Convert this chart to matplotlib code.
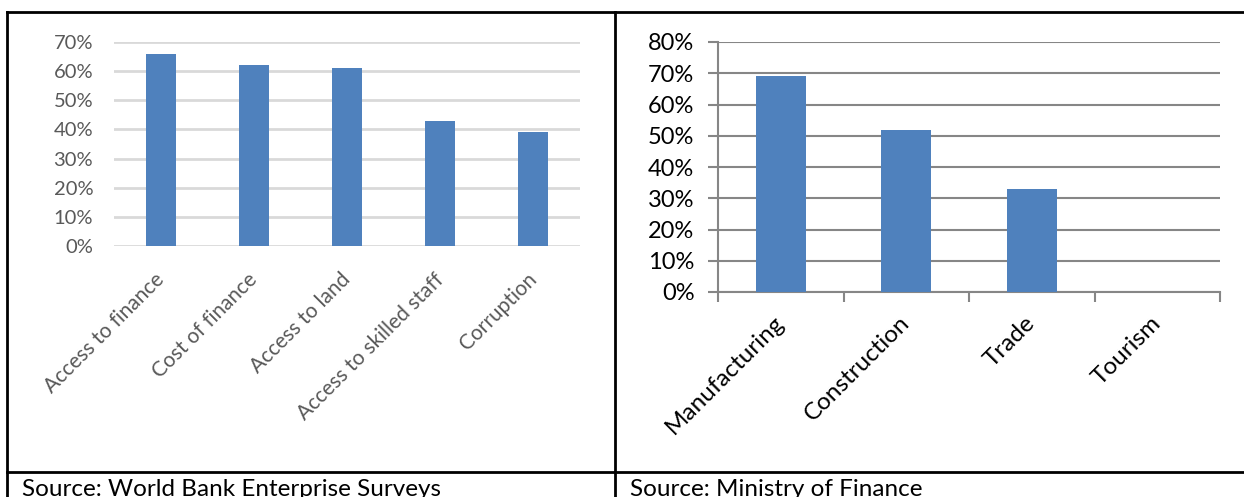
import matplotlib
matplotlib.use("Agg")
import matplotlib.pyplot as plt
from matplotlib.lines import Line2D
from matplotlib.ticker import PercentFormatter

plt.rcParams['font.family'] = ['Lato', 'DejaVu Sans']

# Data
left_categories = ["Access to finance", "Cost of finance", "Access to land",
                   "Access to skilled staff", "Corruption"]
left_values = [0.66, 0.62, 0.61, 0.43, 0.39]
left_source = "Source: World Bank Enterprise Surveys"

right_categories = ["Manufacturing", "Construction", "Trade", "Tourism"]
right_values = [0.69, 0.52, 0.33, 0.0]
right_source = "Source: Ministry of Finance"

W, H = 1244, 497
fig = plt.figure(figsize=(W / 100, H / 100), dpi=100)

def fx(px):
    return px / W

def fy(py):
    return 1 - py / H

bar_color = "#4f81bd"

# ---- Left chart ----
axL = fig.add_axes([fx(114), fy(246), fx(580) - fx(114), fy(42) - fy(246)])
axL.bar(range(len(left_values)), left_values, width=0.32, color=bar_color, zorder=3)
axL.set_xlim(-0.5, len(left_values) - 0.5)
axL.set_ylim(0, 0.70)
axL.set_yticks([i / 10 for i in range(8)])
axL.yaxis.set_major_formatter(PercentFormatter(1.0, decimals=0))
axL.grid(axis='y', color="#d9d9d9", linewidth=2, zorder=0)
axL.set_axisbelow(True)
for s in axL.spines.values():
    s.set_visible(False)
axL.tick_params(axis='y', length=0, pad=15, labelsize=14.5, labelcolor="#595959")
axL.tick_params(axis='x', length=0, pad=22, labelsize=15, labelcolor="#595959")
axL.set_xticks(range(len(left_categories)))
axL.set_xticklabels(left_categories, rotation=45, ha='right', va='center',
                    rotation_mode='anchor')
axL.patch.set_alpha(0)

# ---- Right chart ----
axR = fig.add_axes([fx(718), fy(292), fx(1220) - fx(718), fy(42) - fy(292)])
axR.bar(range(len(right_values)), right_values, width=0.4, color=bar_color, zorder=3)
axR.set_xlim(-0.5, len(right_values) - 0.5)
axR.set_ylim(0, 0.80)
axR.set_yticks([i / 10 for i in range(9)])
axR.yaxis.set_major_formatter(PercentFormatter(1.0, decimals=0))
axR.grid(axis='y', color="#868686", linewidth=1.5, zorder=0)
axR.set_axisbelow(True)
for k in ['top', 'right']:
    axR.spines[k].set_visible(False)
axR.spines['left'].set_color("#868686")
axR.spines['left'].set_linewidth(1.5)
axR.spines['bottom'].set_color("#868686")
axR.spines['bottom'].set_linewidth(1.5)
axR.tick_params(axis='y', length=7, width=1.5, color="#868686", pad=10,
                labelsize=17, labelcolor="black")
# category labels at centers, tick marks at boundaries
axR.set_xticks(range(len(right_categories)))
axR.set_xticklabels(right_categories, rotation=45, ha='right', va='center',
                    rotation_mode='anchor')
axR.tick_params(axis='x', which='major', length=0, pad=20, labelsize=17.5,
                labelcolor="black")
axR.set_xticks([i - 0.5 for i in range(len(right_categories) + 1)], minor=True)
axR.tick_params(axis='x', which='minor', length=7, width=1.5, color="#868686")
axR.patch.set_alpha(0)

# ---- Table borders ----
lw = 2
fig.add_artist(Line2D([fx(7), fx(1244)], [fy(12), fy(12)], transform=fig.transFigure,
                      color='black', linewidth=lw))
fig.add_artist(Line2D([fx(7), fx(1244)], [fy(472), fy(472)], transform=fig.transFigure,
                      color='black', linewidth=lw))
fig.add_artist(Line2D([fx(7), fx(7)], [fy(12), fy(497)], transform=fig.transFigure,
                      color='black', linewidth=lw))
fig.add_artist(Line2D([fx(615), fx(615)], [fy(12), fy(497)], transform=fig.transFigure,
                      color='black', linewidth=lw))

fig.text(fx(22), fy(479), left_source, ha='left', va='top', fontsize=17.5, color='black')
fig.text(fx(630), fy(479), right_source, ha='left', va='top', fontsize=17.5, color='black')

fig.savefig("out.png", dpi=100)
